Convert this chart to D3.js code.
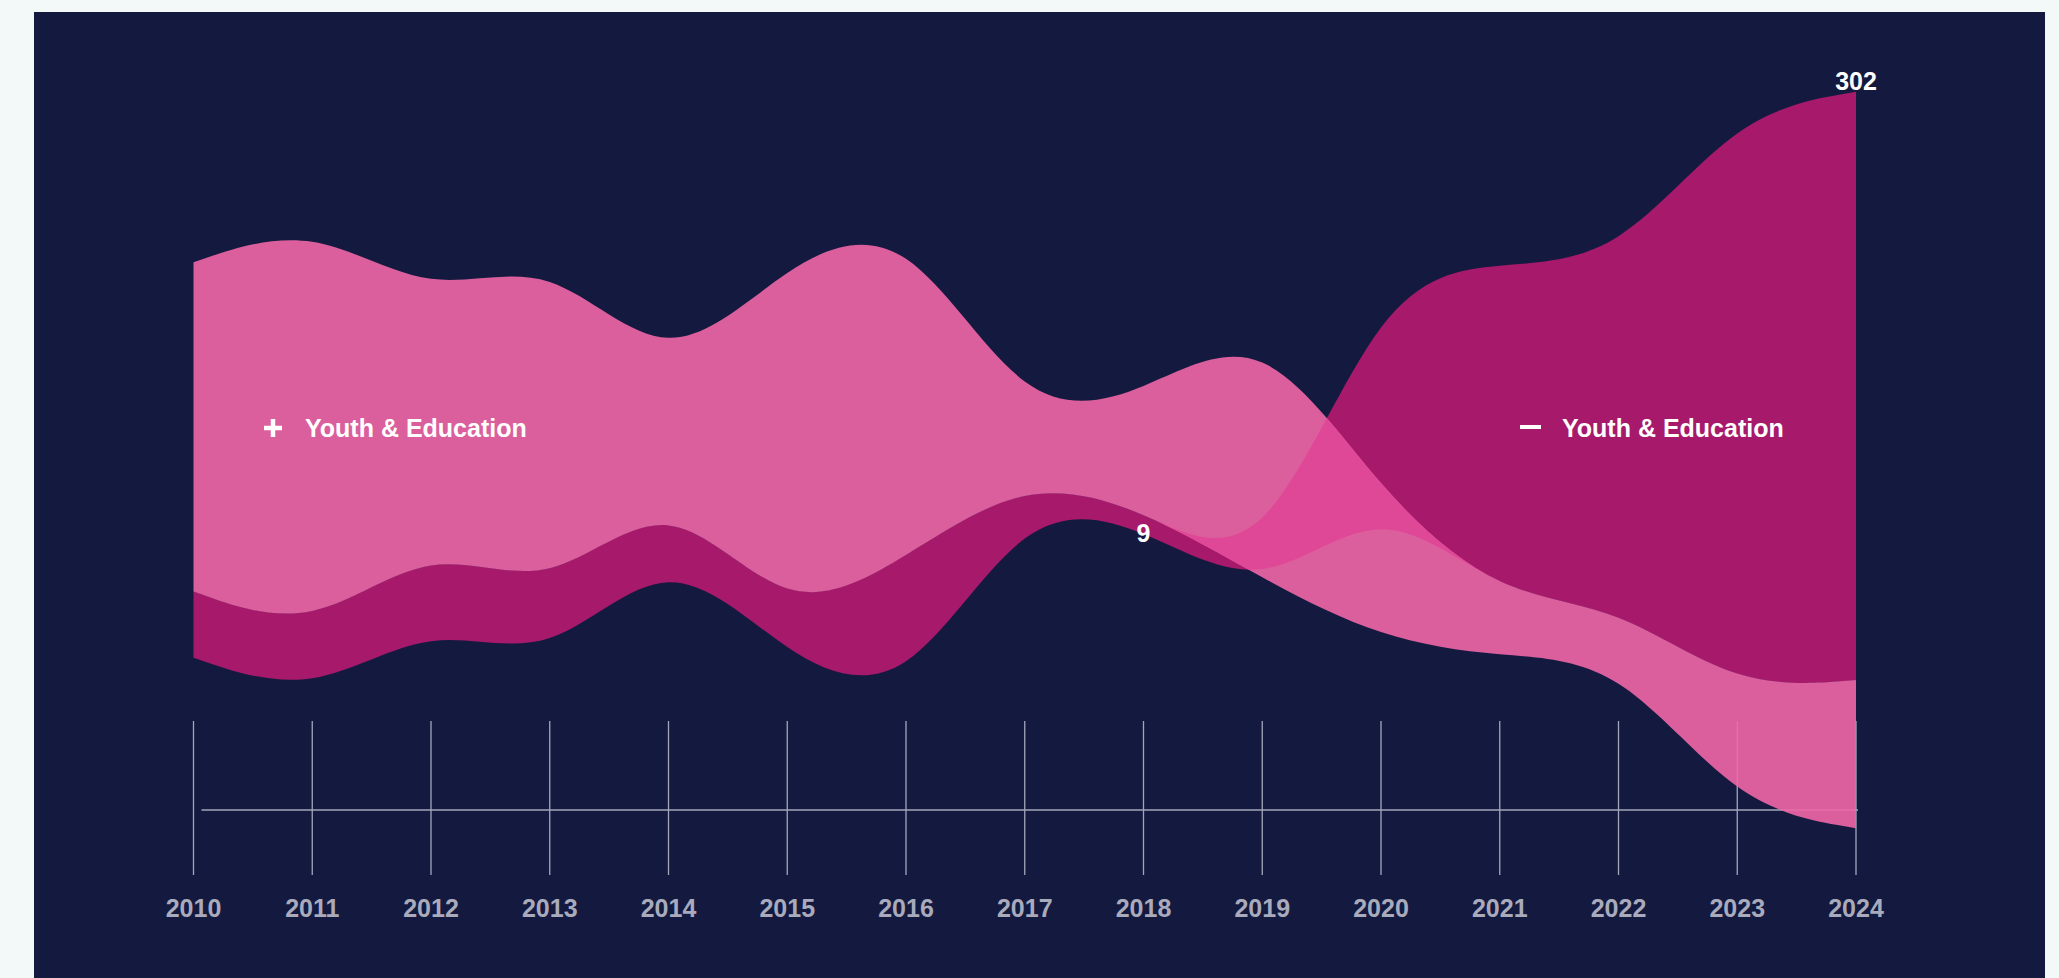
<!DOCTYPE html>
<head>
  <meta charset="utf-8">
  <title>Youth & Education</title>
  <script src="https://cdn.jsdelivr.net/npm/d3@7"></script>
  <style>
body{ margin:0; background:#f3f9f9; }
text{ font-family:"Liberation Sans", Arial, sans-serif; font-weight:bold; }
  </style>
</head>
<body></body>
<script>
// yearly mention counts
var years    = [2010,2011,2012,2013,2014,2015,2016,2017,2018,2019,2020,2021,2022,2023,2024]
var positive = [169, 211, 124, 176,  54, 186, 174,  30,  59, 132,  74,  31,  28,  61,  76]
var negative = [ 34,  33,  41,  36,  30,  19,  74,  12,   9,  10, 110, 171, 177, 296, 302]
var labelPos = "Youth & Education"
var labelNeg = "Youth & Education"

var W = 2059, H = 978
var svg = d3.select("body").append("svg").attr("width", W).attr("height", H)
svg.append("rect").attr("x", 34).attr("y", 12).attr("width", 2011).attr("height", H - 12).attr("fill", "#141a3f")

var xScale = d3.scaleLinear().domain([2010, 2024]).range([193.5, 1856])
var yScale = d3.scaleLinear().domain([-200, 200]).range([460 - 200*1.948, 460 + 200*1.948])

// per year: centred stack, bigger band on top
var posBand = [], negBand = []
years.forEach(function(y, i){
  var p = positive[i], n = negative[i], start = -(p + n)/2
  if(p >= n){
    posBand.push({year:y, y0:start, y1:start + p})
    negBand.push({year:y, y0:start + p, y1:start + p + n})
  } else {
    negBand.push({year:y, y0:start, y1:start + n})
    posBand.push({year:y, y0:start + n, y1:start + n + p})
  }
})

// axis lines (under the areas)
var axis = svg.append("g").attr("id", "axis")
axis.selectAll(".tick").data(years).enter().append("line")
  .attr("x1", d => xScale(d)).attr("x2", d => xScale(d))
  .attr("y1", 721).attr("y2", 875)
  .attr("stroke", "#a3a6bb").attr("stroke-width", 1.3)
axis.append("line").attr("x1", xScale(2010) + 8).attr("x2", xScale(2024) + 2)
  .attr("y1", 810).attr("y2", 810).attr("stroke", "#a3a6bb").attr("stroke-width", 1.3)
axis.selectAll(".yearlabel").data(years).enter().append("text")
  .attr("x", d => xScale(d)).attr("y", 917).attr("text-anchor", "middle")
  .attr("font-size", "25px").attr("fill", "#a9abbd").text(d => d)

var area = d3.area()
  .x(d => xScale(d.year)).y0(d => yScale(d.y0)).y1(d => yScale(d.y1))
  .curve(d3.curveBasis)

svg.append("clipPath").attr("id", "negclip").append("path").attr("d", area(negBand))

svg.append("path").attr("d", area(negBand)).attr("fill", "#a6196b")
svg.append("path").attr("d", area(posBand)).attr("fill", "#f067a6").attr("opacity", 0.9)
svg.append("path").attr("d", area(posBand)).attr("fill", "#df4897").attr("clip-path", "url(#negclip)")

// max / min of the negative series
var iMax = d3.maxIndex(negative), iMin = d3.minIndex(negative)
svg.append("text").attr("x", xScale(years[iMax])).attr("y", yScale(negBand[iMax].y0) - 2)
  .attr("text-anchor", "middle").attr("font-size", "25px").attr("fill", "white").text(negative[iMax])
svg.append("text").attr("x", xScale(years[iMin])).attr("y", yScale(negBand[iMin].y1) + 16)
  .attr("text-anchor", "middle").attr("font-size", "25px").attr("fill", "white").text(negative[iMin])

// series labels
var lab = svg.append("g").attr("id", "labels")
lab.append("line").attr("x1", 264).attr("x2", 282).attr("y1", 428).attr("y2", 428).attr("stroke", "white").attr("stroke-width", 4.5)
lab.append("line").attr("x1", 273).attr("x2", 273).attr("y1", 419).attr("y2", 437).attr("stroke", "white").attr("stroke-width", 4.5)
lab.append("text").attr("x", 305).attr("y", 437).attr("font-size", "25px").attr("fill", "white").text(labelPos)
lab.append("line").attr("x1", 1520).attr("x2", 1541).attr("y1", 427).attr("y2", 427).attr("stroke", "white").attr("stroke-width", 4)
lab.append("text").attr("x", 1562).attr("y", 437).attr("font-size", "25px").attr("fill", "white").text(labelNeg)
</script>
